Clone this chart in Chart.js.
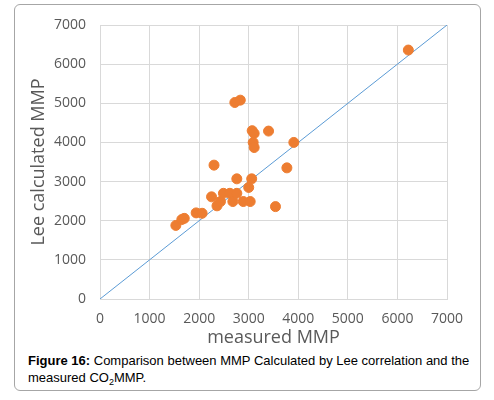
<!DOCTYPE html>
<html>
<head>
<meta charset="utf-8">
<script src="https://cdn.jsdelivr.net/npm/chart.js@4.4.1/dist/chart.umd.min.js"></script>
<style>
  html, body { margin: 0; padding: 0; background: #fff; }
  #frame {
    position: absolute; left: 14px; top: 4px; width: 467px; height: 387px;
    border: 1px solid #a6a6a6; border-radius: 6px; box-sizing: border-box;
  }
  #wrap { position: absolute; left: 0; top: 0; width: 494px; height: 350px; }
  #caption {
    position: absolute; left: 28px; top: 352px; width: 462px;
    font-family: "Liberation Sans", Arial, sans-serif; font-size: 13px; line-height: 17px; color: #000;
  }
  #caption sub { font-size: 9px; vertical-align: -3px; line-height: 0; }
</style>
</head>
<body>
<div id="frame"></div>
<div id="wrap"><canvas id="chart"></canvas></div>
<div id="caption"><b>Figure 16:</b> Comparison between MMP Calculated by Lee correlation and the measured CO<sub>2</sub>MMP.</div>
<script>
// measured MMP (x) vs Lee calculated MMP (y)
const measured = [1530, 1650, 1700, 1940, 2060, 2250, 2300, 2360, 2430, 2490, 2620, 2680, 2760, 2760,
                  2720, 2830, 2890, 3030, 3000, 3060, 3070, 3110, 3090, 3110, 3400, 3540, 3770, 3910, 6220];
const leeCalc  = [1880, 2030, 2060, 2200, 2190, 2610, 3420, 2380, 2490, 2700, 2700, 2490, 2700, 3070,
                  5020, 5080, 2490, 2490, 2850, 3070, 4300, 4230, 4000, 3870, 4290, 2360, 3350, 4000, 6360];
const lineX = [0, 7000];
const lineY = [0, 7000];
const axisTicks = [0, 1000, 2000, 3000, 4000, 5000, 6000, 7000];

const points = measured.map((x, i) => ({ x: x, y: leeCalc[i] }));
const diag = lineX.map((x, i) => ({ x: x, y: lineY[i] }));

const tickFont = { family: "'Open Sans', sans-serif", size: 14 };
const titleFont = { family: "'Open Sans', sans-serif", size: 18 };

new Chart(document.getElementById("chart"), {
    type: "scatter",
    data: {
        datasets: [
            {
                data: points,
                backgroundColor: "#ED7D31",
                borderColor: "#ED7D31",
                pointRadius: 5,
                pointHoverRadius: 5
            },
            {
                type: "line",
                data: diag,
                borderColor: "#5B9BD5",
                borderWidth: 1,
                pointRadius: 0,
                fill: false
            }
        ]
    },
    options: {
        responsive: true,
        maintainAspectRatio: false,
        animation: false,
        layout: { padding: { left: 0, right: 47, top: 25, bottom: 0 } },
        plugins: { legend: { display: false }, tooltip: { enabled: false } },
        scales: {
            x: {
                type: "linear",
                min: 0, max: 7000,
                afterBuildTicks: s => { s.ticks = axisTicks.map(v => ({ value: v })); },
                afterFit: s => { s.height = 51; },
                grid: { color: "#d9d9d9", drawTicks: false },
                border: { color: "#d9d9d9" },
                ticks: { color: "#595959", font: tickFont, padding: 12, maxRotation: 0, callback: v => String(v) },
                title: { display: true, text: "measured MMP", color: "#595959", font: titleFont, padding: { top: 0, bottom: 1 } }
            },
            y: {
                type: "linear",
                min: 0, max: 7000,
                afterBuildTicks: s => { s.ticks = axisTicks.map(v => ({ value: v })); },
                afterFit: s => { s.width = 100; },
                grid: { color: "#d9d9d9", drawTicks: false },
                border: { color: "#d9d9d9" },
                ticks: { color: "#595959", font: tickFont, padding: 14, callback: v => String(v) },
                title: { display: true, text: "Lee calculated MMP", color: "#595959", font: titleFont, padding: { top: 28, bottom: 0 } }
            }
        }
    }
});
</script>
</body>
</html>
